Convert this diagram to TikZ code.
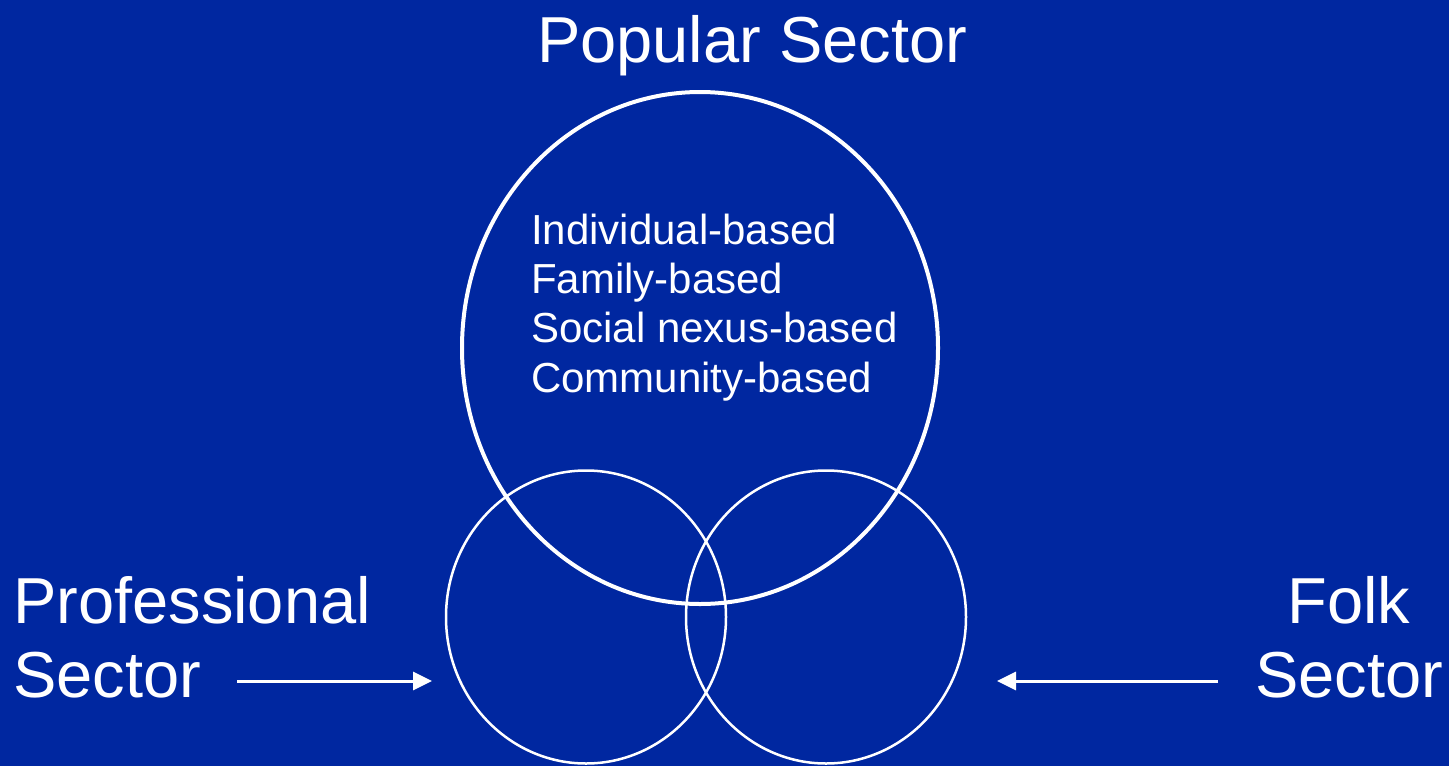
\documentclass[tikz,border=0pt]{standalone}
\usepackage{fontspec}
\setmainfont{Liberation Sans}
\usetikzlibrary{arrows.meta,shapes.geometric}
\definecolor{slideblue}{RGB}{0,39,160}
\begin{document}
\begin{tikzpicture}[x=1pt,y=-1pt,
    sector/.style={ellipse,draw=white,inner sep=0pt},
    sectorname/.style={text=white,inner sep=0pt,font=\fontsize{65}{74}\selectfont},
    sectorarrow/.style={draw=white,line width=3pt,-{Triangle[length=19pt,width=18pt]}}]
  \fill[slideblue] (0,0) rectangle (1449,766);
  \useasboundingbox (0,0) rectangle (1449,766);
  \node[sector,line width=4pt,minimum width=476pt,minimum height=512pt] (popular) at (700,348) {};
  \node[sector,line width=2.5pt,minimum width=280pt,minimum height=293pt] (professional) at (586,617) {};
  \node[sector,line width=2.5pt,minimum width=280pt,minimum height=293pt] (folk) at (826,617) {};
  \node[sectorname,anchor=base] (popularname) at (752,62) {Popular Sector};
  \node[sectorname,anchor=base west,align=left] (profname) at (13,697) {Professional\\Sector};
  \node[sectorname,anchor=base,align=center] (folkname) at (1349,697) {Folk\\Sector};
  \node[text=white,inner sep=0pt,anchor=base west,align=left,font=\fontsize{42}{49.3}\selectfont] (popularlist) at (531,392)
    {Individual-based\\Family-based\\Social nexus-based\\Community-based};
  \coordinate (profstart) at (237,681);
  \coordinate (profend) at (432,681);
  \coordinate (folkstart) at (1218,681);
  \coordinate (folkend) at (997,681);
  \draw[sectorarrow] (profstart) -- (profend);
  \draw[sectorarrow] (folkstart) -- (folkend);
\end{tikzpicture}
\end{document}
